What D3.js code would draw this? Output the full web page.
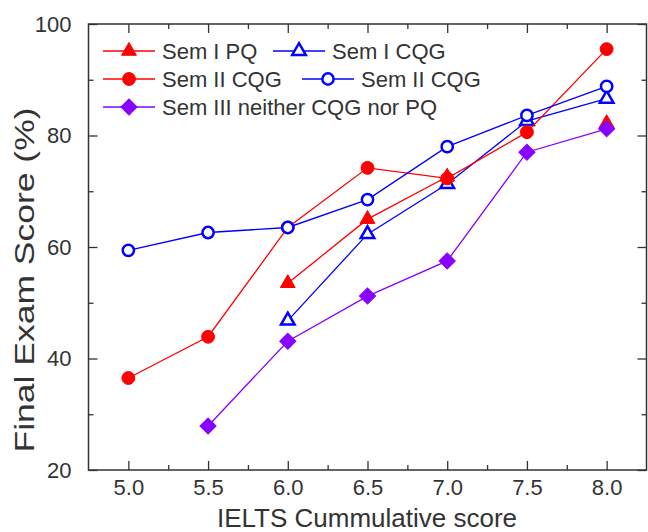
<!DOCTYPE html>
<meta charset="utf-8">
<style>
body { margin: 0; background: #fff; }
text { font-family: "Liberation Sans", Arial, sans-serif; fill: #333; }
.frame { fill: none; stroke: #333; stroke-width: 1.5px; }
.tick line { stroke: #333; stroke-width: 1.3px; }
.line { fill: none; stroke-width: 1.3px; }
</style>
<body>
<script src="https://cdnjs.cloudflare.com/ajax/libs/d3/7.8.5/d3.min.js"></script>
<script>

var ielts = [5.0, 5.5, 6.0, 6.5, 7.0, 7.5, 8.0];

// null = no point at that score
var semIPQ     = [null, null, 53.5, 65.0, 72.6, null, 82.2];
var semICQG    = [null, null, 46.8, 62.3, 71.3, 82.6, 86.6];
var semIICQGr  = [36.5, 43.9, 63.5, 74.2, 72.3, 80.6, 95.5];
var semIICQGb  = [59.4, 62.6, 63.5, 68.5, 78.0, 83.6, 88.8];
var semIII     = [null, 27.9, 43.1, 51.2, 57.5, 77.0, 81.2];

var xTicks = [5.0, 5.5, 6.0, 6.5, 7.0, 7.5, 8.0];
var yTicks = [20, 40, 60, 80, 100];

var series = [
  {name: "Sem I PQ", values: semIPQ, color: "#ff0000", symbol: "tri", filled: true},
  {name: "Sem I CQG", values: semICQG, color: "#0000ff", symbol: "tri", filled: false},
  {name: "Sem II CQG", values: semIICQGr, color: "#ff0000", symbol: "circ", filled: true},
  {name: "Sem II CQG", values: semIICQGb, color: "#0000ff", symbol: "circ", filled: false},
  {name: "Sem III neither CQG nor PQ", values: semIII, color: "#8800ff", symbol: "dia", filled: true}
];

var width = 648, height = 532;
var pLeft = 88.5, pRight = 646.5, pTop = 24, pBottom = 470;

var svg = d3.select("body").append("svg")
    .attr("width", width)
    .attr("height", height);

var x = d3.scaleLinear().domain([4.75, 8.25]).range([pLeft, pRight]);
var y = d3.scaleLinear().domain([20, 100]).range([pBottom, pTop]);

var xMinor = d3.range(5.25, 8.25, 0.5);
var yMinor = [30, 50, 70, 90];

function axisTicks(g, axis) {
  g.call(axis);
  g.select(".domain").remove();
  g.selectAll(".tick text").style("font-size", "22px");
}

// bottom axis with labels
svg.append("g")
    .attr("transform", "translate(0," + pBottom + ")")
    .call(axisTicks, d3.axisBottom(x).tickValues(xTicks).tickFormat(d3.format(".1f")).tickSizeInner(-9).tickPadding(17))
    .selectAll(".tick text").attr("dy", "0.35em");
svg.append("g")
    .attr("transform", "translate(0," + pBottom + ")")
    .call(axisTicks, d3.axisBottom(x).tickValues(xMinor).tickFormat("").tickSizeInner(-5));

// top axis
svg.append("g")
    .attr("transform", "translate(0," + pTop + ")")
    .call(axisTicks, d3.axisTop(x).tickValues(xTicks).tickFormat("").tickSizeInner(-9));
svg.append("g")
    .attr("transform", "translate(0," + pTop + ")")
    .call(axisTicks, d3.axisTop(x).tickValues(xMinor).tickFormat("").tickSizeInner(-5));

// left axis with labels
svg.append("g")
    .attr("transform", "translate(" + pLeft + ",0)")
    .call(axisTicks, d3.axisLeft(y).tickValues(yTicks).tickSizeInner(-9).tickPadding(17));
svg.append("g")
    .attr("transform", "translate(" + pLeft + ",0)")
    .call(axisTicks, d3.axisLeft(y).tickValues(yMinor).tickFormat("").tickSizeInner(-5));

// right axis
svg.append("g")
    .attr("transform", "translate(" + pRight + ",0)")
    .call(axisTicks, d3.axisRight(y).tickValues(yTicks).tickFormat("").tickSizeInner(-9));
svg.append("g")
    .attr("transform", "translate(" + pRight + ",0)")
    .call(axisTicks, d3.axisRight(y).tickValues(yMinor).tickFormat("").tickSizeInner(-5));

svg.append("rect")
    .attr("class", "frame")
    .attr("x", pLeft).attr("y", pTop)
    .attr("width", pRight - pLeft).attr("height", pBottom - pTop);

// axis titles
svg.append("text")
    .attr("x", 367)
    .attr("y", 527)
    .attr("text-anchor", "middle")
    .style("font-size", "26px")
    .text("IELTS Cummulative score");

svg.append("text")
    .attr("transform", "translate(34,280) rotate(-90)")
    .attr("text-anchor", "middle")
    .attr("textLength", 345)
    .attr("lengthAdjust", "spacingAndGlyphs")
    .style("font-size", "27px")
    .text("Final Exam Score (%)");

var triangle = d3.symbol().type(d3.symbolTriangle);
var circle = d3.symbol().type(d3.symbolCircle);
var diamond = d3.symbol().type(d3.symbolSquare);

function marker(sel, s) {
  if (s.symbol == "tri") {
    sel.attr("d", triangle.size(s.filled ? 95 : 80)());
  } else if (s.symbol == "circ") {
    sel.attr("d", circle.size(s.filled ? 130 : 100)());
  } else {
    sel.attr("d", diamond.size(130)());
  }
  sel.attr("fill", s.filled ? s.color : "#fff")
     .attr("stroke", s.color)
     .attr("stroke-width", s.filled ? 1 : 2.5);
}

var line = d3.line()
    .defined(function(d) { return d.v != null; })
    .x(function(d) { return x(d.x); })
    .y(function(d) { return y(d.v); });

series.forEach(function(s) {
  var pts = ielts.map(function(v, i) { return {x: v, v: s.values[i]}; });
  var g = svg.append("g");
  g.append("path")
      .datum(pts)
      .attr("class", "line")
      .attr("stroke", s.color)
      .attr("d", line);
  g.selectAll("path.pt")
      .data(pts.filter(function(d) { return d.v != null; }))
    .enter().append("path")
      .attr("class", "pt")
      .attr("transform", function(d) {
        return "translate(" + x(d.x) + "," + y(d.v) + ")" + (s.symbol == "dia" ? " rotate(45)" : "");
      })
      .each(function() { marker(d3.select(this), s); });
});

// legend
var legendPos = [
  {x: 103, y: 51},
  {x: 273, y: 51},
  {x: 103, y: 79},
  {x: 302, y: 79},
  {x: 103, y: 107}
];

series.forEach(function(s, i) {
  var p = legendPos[i];
  var g = svg.append("g").attr("transform", "translate(" + p.x + "," + p.y + ")");
  g.append("line")
      .attr("x1", 0).attr("x2", 52)
      .attr("stroke", s.color)
      .attr("stroke-width", 1.5);
  g.append("path")
      .attr("transform", "translate(26,0)" + (s.symbol == "dia" ? " rotate(45)" : ""))
      .call(marker, s);
  g.append("text")
      .attr("x", 59)
      .attr("dy", "0.35em")
      .style("font-size", "22px")
      .text(s.name);
});

</script>
</body>
</html>
